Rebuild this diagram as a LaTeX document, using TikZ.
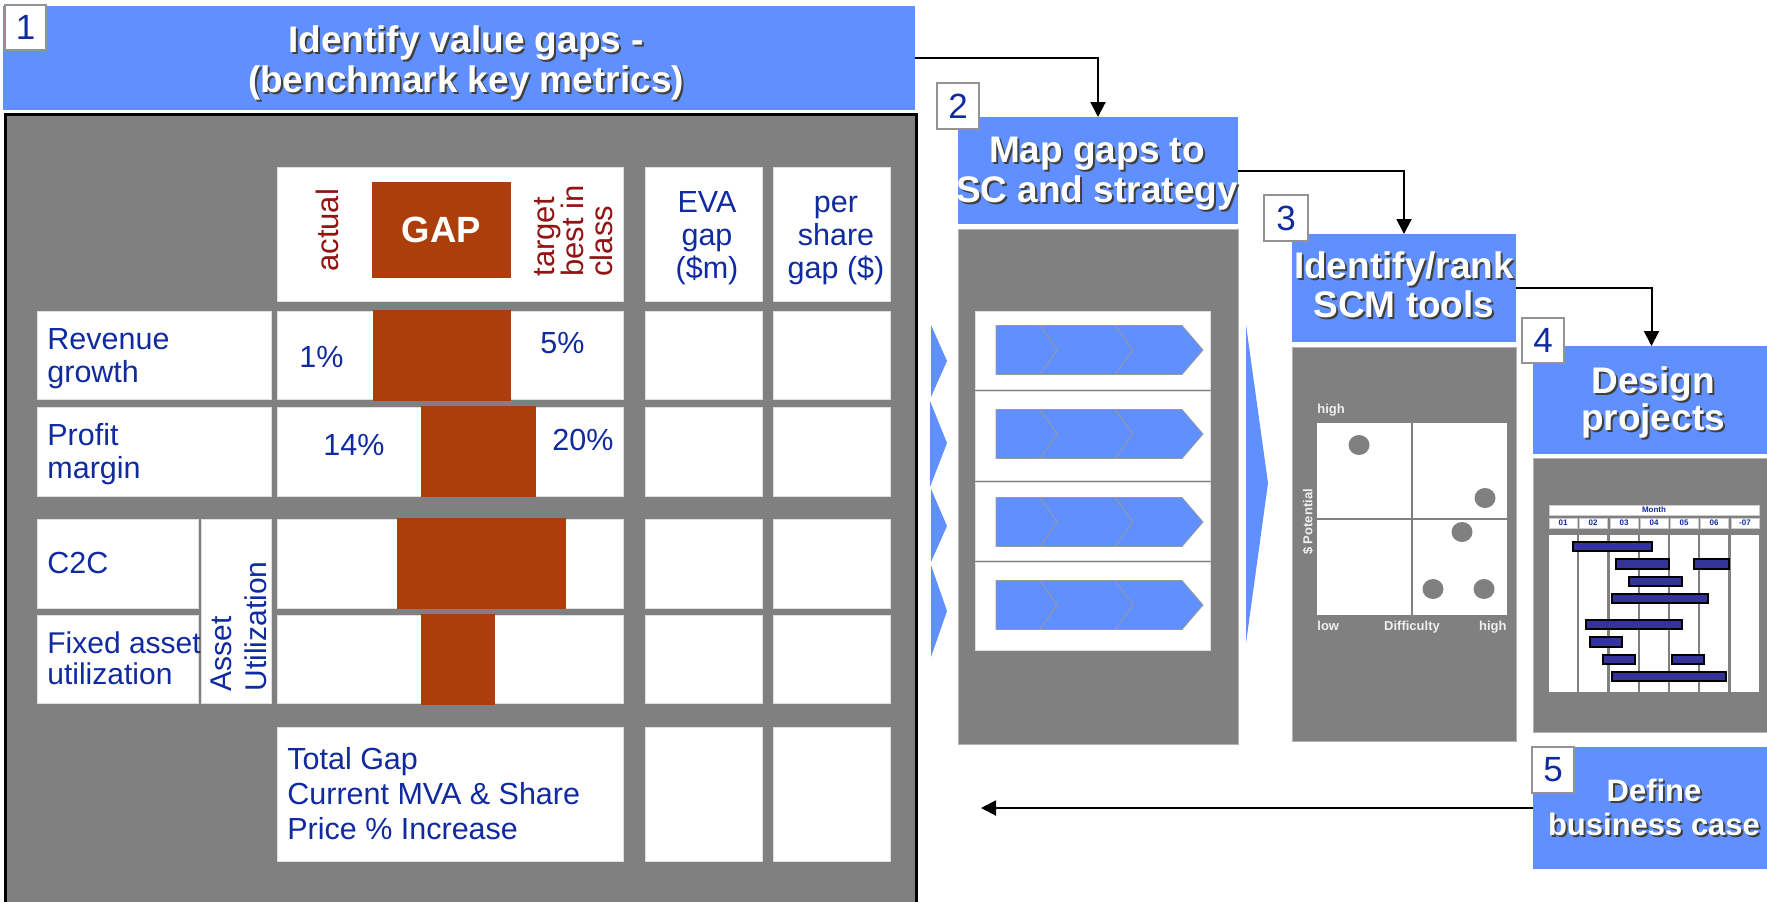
\documentclass[tikz,border=0pt]{standalone}
\usepackage{fontspec}
\setmainfont{Liberation Sans}
\usetikzlibrary{arrows.meta,fit}

\definecolor{bannerblue}{RGB}{96,143,255}
\definecolor{panelgray}{RGB}{128,128,128}
\definecolor{gapbrown}{RGB}{172,62,12}
\definecolor{inkblue}{RGB}{16,42,160}
\definecolor{inkred}{RGB}{145,20,20}
\definecolor{barblue}{RGB}{51,51,153}
\definecolor{chartlabel}{RGB}{240,240,240}

\newcommand\fs[2]{\fontsize{#1}{#2}\selectfont}

% rectangle node spanning two corner points given in pixel units
\newcommand\boxat[6]{%
  \path (#3,#4) coordinate (#2-a) (#5,#6) coordinate (#2-b);
  \node[#1, fit=(#2-a)(#2-b)] (#2) {};}

% white title text with a dark drop shadow (anchored at the last baseline)
\newcommand\bannerlabel[5]{%
  \node[banshadow,#5] (#1-shadow) at (#2,#3) {#4};
  \node[bantext,#5] (#1) at (#2,#3) {#4};}

% one row of the value-chain chevrons
\newcommand\chevron[1]{%
  \filldraw[fill=bannerblue, draw=gray!80, line width=0.4pt]
    (996,#1-24.5) -- (1182,#1-24.5) -- (1203,#1) -- (1182,#1+24.5) -- (996,#1+24.5) -- cycle;
  \draw[gray!80, line width=0.4pt]
    (1040,#1-24.5) -- (1057,#1) -- (1040,#1+24.5)
    (1115,#1-24.5) -- (1133,#1) -- (1115,#1+24.5);}

\tikzset{
  box/.style={inner sep=0pt, outer sep=0pt},
  banner/.style={box, fill=bannerblue},
  panel/.style={box, fill=panelgray, draw=gray!60, line width=0.5pt},
  cell/.style={box, fill=white, draw=gray!25, line width=0.5pt},
  gapbar/.style={box, fill=gapbrown},
  numbox/.style={box, fill=white, draw=gray!85, line width=1.1pt},
  numtext/.style={text=inkblue, font=\fs{17.5}{20}, inner sep=0pt},
  bantext/.style={text=white, font=\bfseries\fs{18.5}{20}, align=center, inner sep=0pt, anchor=base},
  banshadow/.style={bantext, text=black!75, xshift=1pt, yshift=-1pt},
  label/.style={text=inkblue, font=\fs{15.25}{16.5}, align=left, inner sep=0pt, anchor=base west},
  clabel/.style={label, align=center, anchor=base},
  redlabel/.style={text=inkred, font=\fs{15.5}{14.5}, align=left, inner sep=0pt, rotate=90, anchor=south west},
  chartlbl/.style={text=chartlabel, font=\bfseries\fs{6.5}{7}, inner sep=0pt},
  monthcell/.style={box, fill=white, draw=gray!40, line width=0.3pt},
  ganttcol/.style={box, fill=white},
  monthtext/.style={text=inkblue, font=\bfseries\fs{4}{5}, inner sep=0pt},
  ganttbar/.style={box, fill=barblue, draw=black, line width=0.8pt},
  dot/.style={fill=panelgray},
  pointer/.style={fill=bannerblue},
  flow/.style={line width=1pt, -{Triangle[length=7.5pt,width=7.5pt]}},
}

\begin{document}
\begin{tikzpicture}[x=0.5pt, y=-0.5pt]
\useasboundingbox (0,0) rectangle (1767,901);
\fill[white] (0,0) rectangle (1767,901);

% ---------------- step 1: benchmark table ----------------
\boxat{banner}{b1}{3}{6}{915}{110}
\boxat{box, fill=panelgray, draw=black, line width=1.5pt}{p1}{5}{114}{916}{920}

% header row
\boxat{cell}{hdr}{277}{167}{623}{301}
\boxat{cell}{hdreva}{645}{167}{762}{301}
\boxat{cell}{hdrshare}{773}{167}{890}{301}
\boxat{gapbar}{gapbox}{372}{182}{511}{278}
\node[text=white, font=\bfseries\fs{18.25}{20}, inner sep=0pt] (gaptext) at (gapbox) {GAP};
\node[redlabel] (actual) at (339,272) {actual};
\node[redlabel] (target) at (613,277) {target\\best in\\class};
\node[clabel] (evahead) at (707,278) {EVA\\gap\\(\$m)};
\node[clabel] (sharehead) at (836,278) {per\\share\\gap (\$)};

% revenue growth
\boxat{cell}{lab1}{37}{311}{271}{399}
\boxat{cell}{mid1}{277}{311}{623}{399}
\boxat{cell}{eva1}{645}{311}{762}{399}
\boxat{cell}{sh1}{773}{311}{890}{399}
\boxat{gapbar}{bar1}{373}{310}{511}{401}
\node[label] (rev) at (47,382) {Revenue\\growth};
\node[label] (rev-a) at (299,367) {1\%};
\node[label] (rev-t) at (540,353) {5\%};

% profit margin
\boxat{cell}{lab2}{37}{407}{271}{496}
\boxat{cell}{mid2}{277}{407}{623}{496}
\boxat{cell}{eva2}{645}{407}{762}{496}
\boxat{cell}{sh2}{773}{407}{890}{496}
\boxat{gapbar}{bar2}{421}{406}{536}{497}
\node[label] (pm) at (47,478) {Profit\\margin};
\node[label] (pm-a) at (323,455) {14\%};
\node[label] (pm-t) at (552,450) {20\%};

% asset utilization block
\boxat{cell}{lab3}{37}{519}{198}{608}
\boxat{cell}{asset}{201}{519}{271}{703}
\boxat{cell}{mid3}{277}{519}{623}{608}
\boxat{cell}{eva3}{645}{519}{762}{608}
\boxat{cell}{sh3}{773}{519}{890}{608}
\boxat{gapbar}{bar3}{397}{518}{566}{609}
\node[label] (c2c) at (47,573) {C2C};

\boxat{cell}{lab4}{37}{615}{198}{703}
\boxat{cell}{mid4}{277}{615}{623}{703}
\boxat{cell}{eva4}{645}{615}{762}{703}
\boxat{cell}{sh4}{773}{615}{890}{703}
\boxat{gapbar}{bar4}{421}{614}{495}{705}
\node[label, font=\fs{15}{15.5}] (fa) at (47,684) {Fixed asset\\utilization};
\node[text=inkblue, font=\fs{15}{17.5}, align=left, inner sep=0pt, rotate=90, anchor=south west]
  (assetlbl) at (267,692) {Asset\\Utilization};

% totals
\boxat{cell}{tot}{277}{727}{623}{861}
\boxat{cell}{evat}{645}{727}{762}{861}
\boxat{cell}{sht}{773}{727}{890}{861}
\node[label, font=\fs{15.25}{17.5}] (totlbl) at (287,839) {Total Gap\\Current MVA \& Share\\Price \% Increase};

% ---------------- step 2: map gaps ----------------
\boxat{banner}{b2}{958}{117}{1238}{224}
\boxat{panel}{p2}{958}{229}{1238}{744}
\boxat{cell}{r1}{975}{311}{1210}{389}
\boxat{cell}{r2}{975}{391}{1210}{480}
\boxat{cell}{r3}{975}{482}{1210}{560}
\boxat{cell}{r4}{975}{562}{1210}{650}
\chevron{350}
\chevron{434}
\chevron{522}
\chevron{605}

% pointers between the steps
\fill[pointer] (931,325) -- (947,361) -- (931,397) -- cycle;
\fill[pointer] (930,401) -- (947,443) -- (930,487) -- cycle;
\fill[pointer] (931,489) -- (947,526) -- (931,562) -- cycle;
\fill[pointer] (931,565) -- (947,611) -- (931,657) -- cycle;
\fill[pointer] (1246,325) -- (1268,483) -- (1246,643) -- cycle;

% ---------------- step 3: rank tools ----------------
\boxat{banner}{b3}{1292}{234}{1516}{342}
\boxat{panel}{p3}{1292}{347}{1516}{741}
\boxat{box, fill=white}{chart}{1317}{423}{1507}{615}
\draw[panelgray, line width=1.2pt] (chart.north) -- (chart.south) (chart.west) -- (chart.east);
\fill[dot] (1359,445) ellipse [x radius=5.25pt, y radius=5pt];
\fill[dot] (1485,498) ellipse [x radius=5.25pt, y radius=5pt];
\fill[dot] (1462,532) ellipse [x radius=5.25pt, y radius=5pt];
\fill[dot] (1433,589) ellipse [x radius=5.25pt, y radius=5pt];
\fill[dot] (1484,589) ellipse [x radius=5.25pt, y radius=5pt];
\node[chartlbl, anchor=base west] (yhigh) at (1317,413) {high};
\node[chartlbl, anchor=base west] (xlow) at (1317,630) {low};
\node[chartlbl, anchor=base] (xname) at (1412,630) {Difficulty};
\node[chartlbl, anchor=base east] (xhigh) at (1507,630) {high};
\node[chartlbl, rotate=90] (yname) at (1308,522) {\$ Potential};

% ---------------- step 4: project plan ----------------
\boxat{banner}{b4}{1533}{346}{1770}{454}
\boxat{panel}{p4}{1533}{458}{1770}{732}
\boxat{monthcell}{monthbar}{1549}{505}{1759}{515}
\node[monthtext] (monthlbl) at (monthbar) {Month};
\foreach \i/\xa/\xb/\lab in {1/1549/1577/01, 2/1579/1607/02, 3/1610/1638/03,
    4/1640/1668/04, 5/1670/1698/05, 6/1700/1728/06, 7/1731/1759/-07} {
  \boxat{monthcell}{mc\i}{\xa}{518}{\xb}{528}
  \node[monthtext] (ml\i) at (mc\i) {\lab};
  \boxat{ganttcol}{gc\i}{\xa}{535}{\xb}{692}
}
\foreach \i/\xa/\xb/\ya/\yb in {1/1573/1652/542/551, 2/1616/1669/559/569,
    3/1694/1729/559/569, 4/1629/1682/577/586, 5/1612/1708/594/603,
    6/1586/1682/620/629, 7/1590/1622/637/647, 8/1603/1635/655/664,
    9/1672/1704/655/664, 10/1612/1726/672/681} {
  \boxat{ganttbar}{gb\i}{\xa}{\ya}{\xb}{\yb}
}

% ---------------- step 5: business case ----------------
\boxat{banner}{b5}{1533}{747}{1770}{869}

% titles
\bannerlabel{t1}{466}{92}{Identify value gaps -\\(benchmark key metrics)}{}
\bannerlabel{t2}{1097}{202}{Map gaps to\\SC and strategy}{}
\bannerlabel{t3}{1404}{317}{Identify/rank\\SCM tools}{font=\bfseries\fs{18.5}{19.5}}
\bannerlabel{t4}{1653}{430}{Design\\projects}{font=\bfseries\fs{18.5}{18.5}}
\bannerlabel{t5}{1654}{835}{Define\\business case}{font=\bfseries\fs{15.5}{17}}

% step numbers
\boxat{numbox}{n1}{5}{5}{46}{50}
\boxat{numbox}{n2}{937}{83}{979}{129}
\boxat{numbox}{n3}{1264}{195}{1308}{241}
\boxat{numbox}{n4}{1522}{318}{1564}{363}
\boxat{numbox}{n5}{1532}{747}{1574}{793}
\node[numtext] (n1-t) at (n1) {1};
\node[numtext] (n2-t) at (n2) {2};
\node[numtext] (n3-t) at (n3) {3};
\node[numtext] (n4-t) at (n4) {4};
\node[numtext] (n5-t) at (n5) {5};

% flow between the steps
\coordinate (back) at (981,808);
\draw[flow] (b1.east) -| (b2.north);
\draw[flow] (b2.east) -| (b3.north);
\draw[flow] (b3.east) -| (b4.north);
\draw[flow] (b5.west) -- (b5.west -| back);
\end{tikzpicture}
\end{document}
